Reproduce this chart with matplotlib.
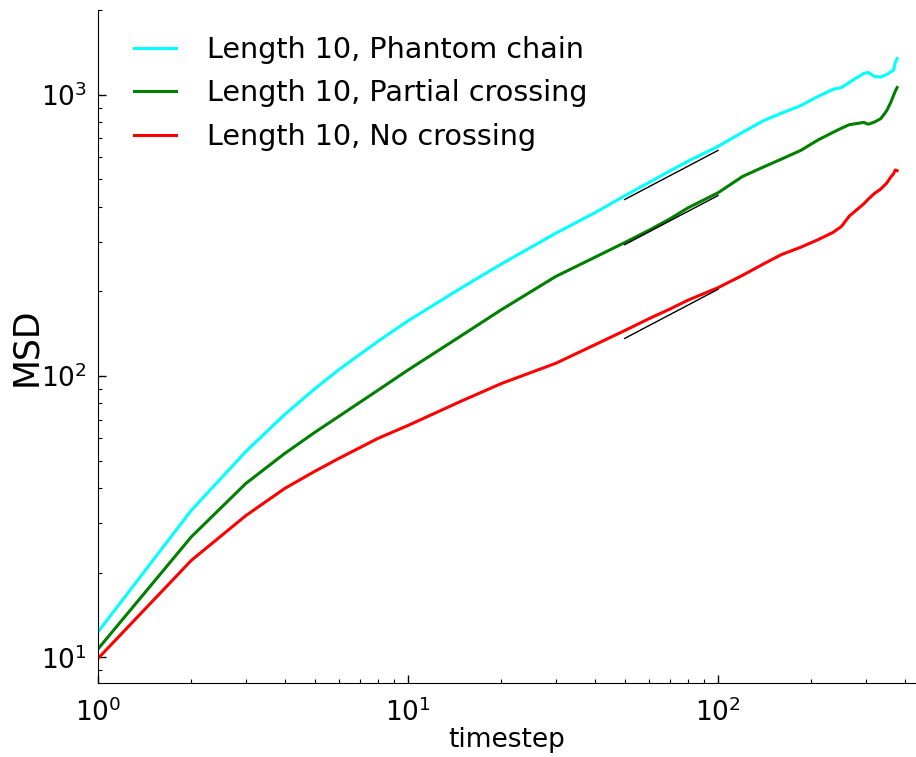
import numpy as np
from matplotlib import pyplot as plt

# timesteps sampled along the curves
timestep = [1, 2, 3, 4, 5, 6, 8, 10, 15, 20, 30, 40, 50, 60, 70, 80, 100, 120, 140,
	160, 185, 210, 235, 250, 265, 295, 305, 320, 335, 350, 360, 368, 373, 378]

msd_phantom = [12.3, 33.3, 53.9, 72.9, 90, 105.5, 132.8, 157, 207, 250, 322, 380, 437, 488,
	536, 580, 655, 735, 808, 859, 915, 985, 1045, 1060, 1105, 1190, 1200, 1160, 1155,
	1180, 1205, 1220, 1300, 1345]
msd_partial = [10.7, 26.8, 41.5, 53, 63, 72, 89, 105, 140, 172, 226, 264, 298, 330,
	362, 396, 448, 512, 553, 590, 634, 690, 735, 760, 782, 797, 785, 800, 822,
	877, 935, 992, 1030, 1060]
msd_nocross = [9.9, 22.1, 31.9, 39.8, 45.8, 51, 60, 66.7, 81.8, 94, 111, 129, 145, 160,
	173, 186, 206, 228, 250, 270, 287, 305, 324, 340, 370, 409, 425, 446, 462,
	485, 508, 523, 540, 537]

labels = ["Length 10, Phantom chain", "Length 10, Partial crossing", "Length 10, No crossing"]
colors = ["cyan", "green", "red"]

# power-law guide lines drawn under each curve
guide_x = np.array([50, 100])
guide_start = [424, 293, 136]
guide_slope = 0.58

fig = plt.figure(figsize=(9.16, 7.57), dpi=100)
ax = fig.add_axes([98/916, 74/757, 818/916, 673/757])

for y, lab, c in zip([msd_phantom, msd_partial, msd_nocross], labels, colors):
	ax.plot(timestep, y, color=c, lw=2.2, label=lab)

for y0 in guide_start:
	ax.plot(guide_x, y0*(guide_x/guide_x[0])**guide_slope, color="black", lw=1)

ax.set_xscale("log")
ax.set_yscale("log")
ax.set_xlim(1, 435)
ax.set_ylim(8.1, 2000)

ax.spines["top"].set_visible(False)
ax.spines["right"].set_visible(False)
ax.tick_params(which="both", direction="in", top=False, right=False, labelsize=19)
ax.tick_params(which="major", length=6, width=1)
ax.tick_params(axis="x", which="major", pad=11)
ax.tick_params(axis="y", which="major", pad=8)
ax.tick_params(which="minor", length=3, width=0.8)

ax.set_xlabel("timestep", fontsize=19, labelpad=0)
ax.set_ylabel("MSD", fontsize=25, labelpad=-2)

ax.legend(loc="upper left", frameon=False, fontsize=20.6, handlelength=1.5,
	handletextpad=1.05, labelspacing=0.55, bbox_to_anchor=(0.012, 1.0))

fig.savefig("out.png", dpi=100)
